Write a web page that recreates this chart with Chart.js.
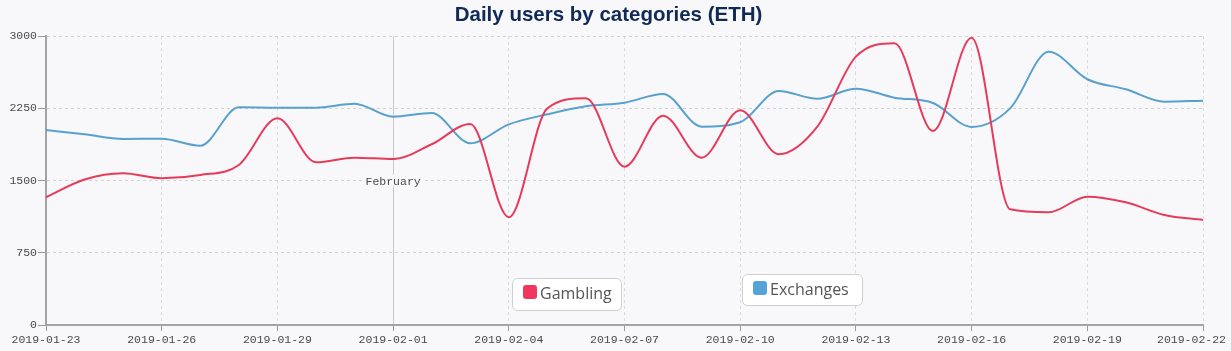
<!DOCTYPE html>
<html>
<head>
<meta charset="utf-8">
<title>Daily users by categories (ETH)</title>
<script src="https://cdn.jsdelivr.net/npm/chart.js@4/dist/chart.umd.min.js"></script>
<style>
  html, body { margin: 0; padding: 0; background: #f8f8fb; }
  #wrap { width: 1231px; height: 351px; }
</style>
</head>
<body>
<div id="wrap"><canvas id="chart" width="1231" height="351"></canvas></div>
<script>
  const days = [
    '2019-01-23', '2019-01-24', '2019-01-25', '2019-01-26', '2019-01-27', '2019-01-28',
    '2019-01-29', '2019-01-30', '2019-01-31', '2019-02-01', '2019-02-02', '2019-02-03',
    '2019-02-04', '2019-02-05', '2019-02-06', '2019-02-07', '2019-02-08', '2019-02-09',
    '2019-02-10', '2019-02-11', '2019-02-12', '2019-02-13', '2019-02-14', '2019-02-15',
    '2019-02-16', '2019-02-17', '2019-02-18', '2019-02-19', '2019-02-20', '2019-02-21',
    '2019-02-22'
  ];
  const gambling = [
    1326, 1510, 1575, 1523, 1557, 1661, 2145, 1689, 1737, 1723, 1876, 2087,
    1118, 2249, 2353, 1644, 2173, 1737, 2229, 1772, 2059, 2786, 2924, 2014,
    2983, 1201, 1170, 1332, 1274, 1142, 1090
  ];
  const exchanges = [
    2024, 1980, 1931, 1934, 1861, 2260, 2256, 2256, 2297, 2162, 2201, 1886,
    2083, 2187, 2270, 2308, 2398, 2059, 2104, 2429, 2349, 2453, 2360, 2305,
    2056, 2249, 2837, 2551, 2447, 2318, 2329
  ];
  const yTicks = [0, 750, 1500, 2250, 3000];
  const tickEvery = 3;
  const monthMarks = [{index: 9, label: 'February'}];

  const MONO_FAMILY = '"Liberation Mono", "DejaVu Sans Mono", monospace';
  const MONO = '11.5px ' + MONO_FAMILY;
  const BG = '#f8f8fb';
  const isMonth = i => monthMarks.some(m => m.index === i);

  // date labels, last one pulled back inside the canvas
  const dateLabels = {
    id: 'dateLabels',
    afterDraw(chart) {
      const {ctx, scales: {x}} = chart;
      ctx.save();
      ctx.font = MONO;
      ctx.fillStyle = '#4a4a4a';
      ctx.textBaseline = 'top';
      ctx.textAlign = 'left';
      days.forEach((d, i) => {
        if (i % tickEvery) return;
        const w = ctx.measureText(d).width;
        let left = x.getPixelForValue(i) - w / 2;
        left = Math.max(4, Math.min(left, chart.width - w - 5));
        ctx.fillText(d, left, x.top + 9);
      });
      ctx.restore();
    }
  };

  const monthLabels = {
    id: 'monthLabels',
    afterDatasetsDraw(chart) {
      const {ctx, chartArea, scales: {x}} = chart;
      const mid = (chartArea.top + chartArea.bottom) / 2;
      ctx.save();
      ctx.font = MONO;
      ctx.textAlign = 'center';
      ctx.textBaseline = 'middle';
      monthMarks.forEach(m => {
        const px = x.getPixelForValue(m.index);
        const w = ctx.measureText(m.label).width;
        ctx.fillStyle = BG;
        ctx.fillRect(px - w / 2 - 3, mid - 6, w + 6, 12);
        ctx.fillStyle = '#4a4a4a';
        ctx.fillText(m.label, px, mid + 1);
      });
      ctx.restore();
    }
  };

  // floating legend boxes as in the original
  const legendSpots = [
    {x: 512, y: 278, w: 109, h: 32},
    {x: 742, y: 274, w: 120, h: 31}
  ];
  const markerColors = ['#f0385e', '#56a3d5'];

  const roundRect = (ctx, x, y, w, h, r) => {
    ctx.beginPath();
    ctx.moveTo(x + r, y);
    ctx.arcTo(x + w, y, x + w, y + h, r);
    ctx.arcTo(x + w, y + h, x, y + h, r);
    ctx.arcTo(x, y + h, x, y, r);
    ctx.arcTo(x, y, x + w, y, r);
    ctx.closePath();
  };

  const floatLegend = {
    id: 'floatLegend',
    afterDraw(chart) {
      const {ctx} = chart;
      ctx.save();
      chart.data.datasets.forEach((ds, i) => {
        const s = legendSpots[i];
        roundRect(ctx, s.x + 0.5, s.y + 0.5, s.w, s.h, 5);
        ctx.fillStyle = '#fff';
        ctx.fill();
        ctx.strokeStyle = '#cfcfcf';
        ctx.lineWidth = 1;
        ctx.stroke();
        roundRect(ctx, s.x + 11, s.y + 7, 14, 14, 3);
        ctx.fillStyle = markerColors[i];
        ctx.fill();
        ctx.font = '16px "Open Sans", "Liberation Sans", sans-serif';
        ctx.fillStyle = '#555';
        ctx.textAlign = 'left';
        ctx.textBaseline = 'alphabetic';
        ctx.fillText(ds.label, s.x + 28, s.y + 21);
      });
      ctx.restore();
    }
  };

  new Chart(document.getElementById('chart'), {
    type: 'line',
    data: {
      labels: days,
      datasets: [
        {label: 'Gambling', data: gambling, borderColor: '#e63c5c', borderWidth: 2, pointRadius: 0, cubicInterpolationMode: 'monotone', fill: false},
        {label: 'Exchanges', data: exchanges, borderColor: '#58a1cc', borderWidth: 2, pointRadius: 0, cubicInterpolationMode: 'monotone', fill: false}
      ]
    },
    plugins: [monthLabels, dateLabels, floatLegend],
    options: {
      responsive: false,
      devicePixelRatio: 1,
      animation: false,
      layout: {padding: {top: 0, right: 14, bottom: 0, left: 0}},
      plugins: {
        legend: {display: false},
        tooltip: {enabled: false},
        title: {
          display: true,
          text: 'Daily users by categories (ETH)',
          color: '#102a54',
          font: {family: '"Liberation Sans", Arial, sans-serif', size: 20.5, weight: 'bold'},
          padding: {top: 3, bottom: 8.4}
        }
      },
      scales: {
        x: {
          ticks: {display: false, autoSkip: false},
          grid: {
            color: c => c.index % tickEvery ? 'transparent' : (isMonth(c.index) ? '#c9c9c9' : '#dcdcdc'),
            tickColor: c => c.index % tickEvery ? 'transparent' : '#999',
            tickLength: 6,
            lineWidth: 1
          },
          border: {display: true, color: '#a3a3a3', width: 2, dash: c => isMonth(c.index) ? [] : [3, 3]},
          afterFit: s => { s.height = 26; s.paddingLeft = 0; s.paddingRight = 28; }
        },
        y: {
          min: yTicks[0],
          max: yTicks[yTicks.length - 1],
          afterBuildTicks: s => { s.ticks = yTicks.map(v => ({value: v})); },
          ticks: {
            color: '#4a4a4a',
            font: {family: MONO_FAMILY, size: 11.5},
            padding: 1,
            callback: v => String(v)
          },
          grid: {color: '#d4d4d4', tickColor: '#999', tickLength: 8, lineWidth: 1},
          border: {display: true, color: '#a3a3a3', width: 2, dash: [3, 3]},
          afterFit: s => { s.width = 46; }
        }
      }
    }
  });
</script>
</body>
</html>
